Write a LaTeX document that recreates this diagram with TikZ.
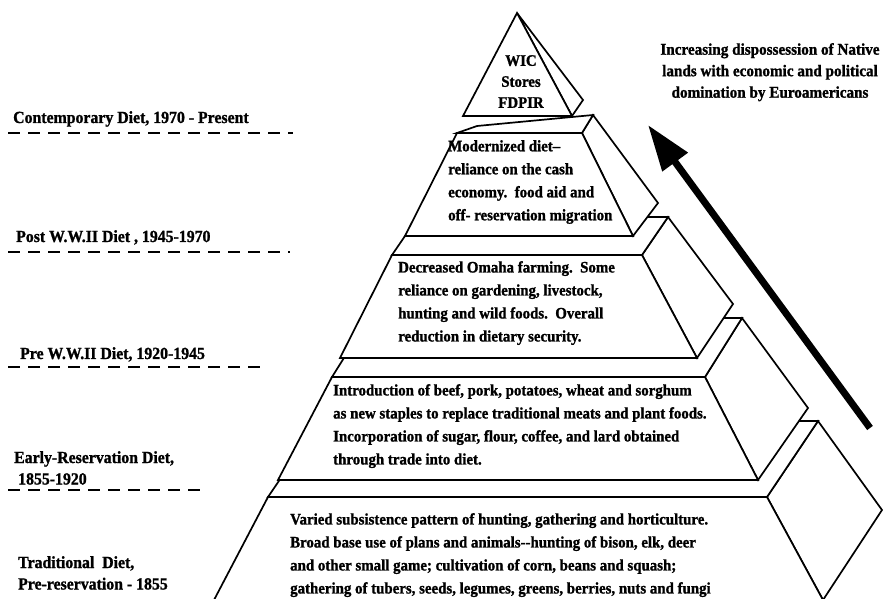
\documentclass[tikz,border=0pt]{standalone}
\usepackage{fontspec}
\setmainfont{Liberation Serif}[FakeStretch=0.93, BoldFeatures={FakeBold=1.2}]
\usetikzlibrary{arrows.meta}
\begin{document}
\begin{tikzpicture}[x=1pt,y=-1pt,
  face/.style={draw=black, line width=1.7pt, fill=white, line join=miter},
  lbl/.style={anchor=north west, inner sep=0pt, align=left, font=\bfseries\fontsize{17}{21.5}\selectfont},
  body/.style={anchor=north west, inner sep=0pt, align=left, font=\bfseries\fontsize{16}{23}\selectfont},
  era/.style={line width=1.8pt, dash pattern=on 12pt off 8pt},
  bigarrow/.style={line width=7pt, -{Triangle[length=46pt,width=30pt]}}
]
\useasboundingbox (0,0) rectangle (883,599);

% ---- era separators
\draw[era] (8,133) -- (293,133);
\draw[era] (8,252) -- (290,252);
\draw[era] (8,367) -- (260,367);
\draw[era] (8,490) -- (200,490);

% ---- layer 1 (bottom)
\filldraw[face] (767,497) -- (818,421) -- (882,510) -- (823,600) -- cycle;
\filldraw[face] (268,497) -- (319,422) -- (818,421) -- (767,497) -- cycle;
\filldraw[face] (268,497) -- (767,497) -- (823,600) -- (214,600) -- cycle;

% ---- layer 2
\filldraw[face] (705,377) -- (742,318) -- (808,408) -- (758,480) -- cycle;
\filldraw[face] (332,377) -- (369,318) -- (742,318) -- (705,377) -- cycle;
\filldraw[face] (332,377) -- (705,377) -- (758,480) -- (278,480) -- cycle;

% ---- layer 3
\filldraw[face] (642,255) -- (668,217) -- (733,304) -- (697,358) -- cycle;
\filldraw[face] (392,255) -- (418,217) -- (668,217) -- (642,255) -- cycle;
\filldraw[face] (392,255) -- (642,255) -- (697,358) -- (340,358) -- cycle;

% ---- layer 4
\filldraw[face] (582,133) -- (593,115) -- (658,203) -- (633,236) -- cycle;
\filldraw[face] (457,133) -- (477,126) -- (593,115) -- (582,133) -- cycle;
\filldraw[face] (457,133) -- (582,133) -- (633,236) -- (405,236) -- cycle;

% ---- layer 5 (apex)
\filldraw[face] (517,13) -- (583,100) -- (572,116) -- cycle;
\filldraw[face] (517,13) -- (572,116) -- (463,116) -- cycle;

% ---- texts in the pyramid
\node[body, anchor=north, align=center, font=\bfseries\fontsize{16}{21}\selectfont] (t5) at (521,55) {WIC\\Stores\\FDPIR};
\node[body] (t4) at (448,140) {Modernized diet--\\reliance on the cash\\economy.\ \ food aid and\\off- reservation migration};
\node[body] (t3) at (398,261) {Decreased Omaha farming.\ \ Some\\reliance on gardening, livestock,\\hunting and wild foods.\ \ Overall\\reduction in dietary security.};
\node[body] (t2) at (333,384) {Introduction of beef, pork, potatoes, wheat and sorghum\\as new staples to replace traditional meats and plant foods.\\Incorporation of sugar, flour, coffee, and lard obtained\\through trade into diet.};
\node[body] (t1) at (290,513) {Varied subsistence pattern of hunting, gathering and horticulture.\\Broad base use of plans and animals-{}-hunting of bison, elk, deer\\and other small game; cultivation of corn, beans and squash;\\gathering of tubers, seeds, legumes, greens, berries, nuts and fungi};

% ---- era labels
\node[lbl] (e5) at (13,111) {Contemporary Diet, 1970 - Present};
\node[lbl] (e4) at (16,230) {Post W.W.II Diet , 1945-1970};
\node[lbl] (e3) at (20,347) {Pre W.W.II Diet, 1920-1945};
\node[lbl] (e2) at (14,451) {Early-Reservation Diet,\\\hspace{4pt}1855-1920};
\node[lbl] (e1) at (18,556) {Traditional\ \ Diet,\\Pre-reservation - 1855};

% ---- arrow and its caption
\node[body, anchor=north, align=center, font=\bfseries\fontsize{16.3}{21.5}\selectfont] (cap) at (770,43) {Increasing dispossession of Native\\lands with economic and political\\domination by Euroamericans};
\coordinate (arrS) at (870,428);
\coordinate (arrE) at (648,125);
\draw[bigarrow] (arrS) -- (arrE);
\end{tikzpicture}
\end{document}
